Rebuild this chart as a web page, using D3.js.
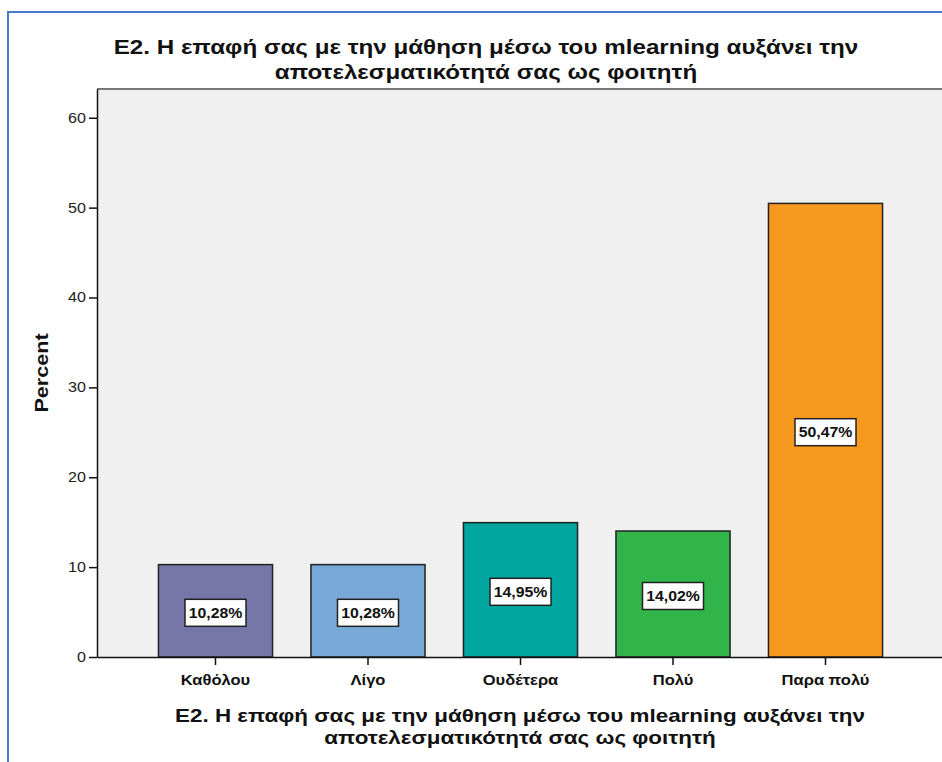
<!DOCTYPE html>
<html>
<head>
<meta charset="utf-8">
<script src="https://cdn.jsdelivr.net/npm/d3@7"></script>
<style>
  html, body { margin: 0; padding: 0; background: #ffffff; }
  svg { display: block; font-family: "Liberation Sans", Arial, sans-serif; }
</style>
</head>
<body>
<svg id="chart" width="942" height="762"></svg>
<script>
// Response categories and their percentages
const categories = ["Καθόλου", "Λίγο", "Ουδέτερα", "Πολύ", "Παρα πολύ"];
const percents = [10.28, 10.28, 14.95, 14.02, 50.47];
const barColors = ["#7676a9", "#78a9d7", "#00a59f", "#31b54a", "#f7981f"];
const yTicks = [0, 10, 20, 30, 40, 50, 60];
const titleLines = [
  "E2. Η επαφή σας με την μάθηση μέσω του mlearning αυξάνει την",
  "αποτελεσματικότητά σας ως φοιτητή"
];
const yTitle = "Percent";

const svg = d3.select("#chart");

// widen glyphs horizontally so text takes the wider set width of the original renderer
function widen(sel, factor) {
  sel.each(function () {
    const w = this.getComputedTextLength();
    d3.select(this)
      .attr("textLength", w * factor)
      .attr("lengthAdjust", "spacingAndGlyphs");
  });
}

// outer blue frame (top and left edges)
svg.append("path")
  .attr("d", "M8,763 L8,12 L943,12")
  .attr("fill", "none")
  .attr("stroke", "#4a78c8")
  .attr("stroke-width", 2);

const plot = { left: 97, top: 89, right: 944, bottom: 657 };

const x = d3.scaleBand()
  .domain(categories)
  .range([plot.left, plot.right])
  .paddingInner(0.252)
  .paddingOuter(0.403);

const y = d3.scaleLinear()
  .domain([0, 63.2])
  .range([plot.bottom, plot.top]);

// plot background
svg.append("rect")
  .attr("x", plot.left).attr("y", plot.top)
  .attr("width", plot.right - plot.left).attr("height", plot.bottom - plot.top)
  .attr("fill", "#f0f0f0");

// top frame of plot area
svg.append("line")
  .attr("x1", plot.left).attr("x2", plot.right)
  .attr("y1", plot.top).attr("y2", plot.top)
  .attr("stroke", "#777").attr("stroke-width", 2);

// bars
svg.append("g").selectAll("rect")
  .data(percents)
  .join("rect")
  .attr("x", (d, i) => x(categories[i]))
  .attr("y", d => y(d))
  .attr("width", x.bandwidth())
  .attr("height", d => y(0) - y(d))
  .attr("fill", (d, i) => barColors[i])
  .attr("stroke", "#222")
  .attr("stroke-width", 1.5);

// value labels inside bars
const lab = svg.append("g").selectAll("g")
  .data(percents)
  .join("g")
  .attr("transform", (d, i) => `translate(${x(categories[i]) + x.bandwidth() / 2},${(y(d) + y(0)) / 2 + 2})`);
lab.append("rect")
  .attr("x", -30.5).attr("y", -13.5)
  .attr("width", 61).attr("height", 27)
  .attr("fill", "#fff")
  .attr("stroke", "#222")
  .attr("stroke-width", 1.5);
const labText = lab.append("text")
  .attr("text-anchor", "middle")
  .attr("dy", "0.36em")
  .attr("font-size", 14)
  .attr("font-weight", "bold")
  .attr("fill", "#111")
  .text(d => d.toFixed(2).replace(".", ",") + "%");
widen(labText, 1.13);

// y axis
const yAxis = svg.append("g")
  .attr("transform", `translate(${plot.left},0)`)
  .call(d3.axisLeft(y).tickValues(yTicks).tickSize(8).tickPadding(3).tickSizeOuter(0));
yAxis.select(".domain").attr("stroke", "#111").attr("stroke-width", 1.5);
yAxis.selectAll(".tick line").attr("stroke", "#111").attr("stroke-width", 1.5);
yAxis.selectAll(".tick text")
  .attr("font-size", 14)
  .attr("font-family", "Liberation Sans, Arial, sans-serif")
  .attr("fill", "#222");
widen(yAxis.selectAll(".tick text"), 1.15);

// x axis
const xAxis = svg.append("g")
  .attr("transform", `translate(0,${plot.bottom})`)
  .call(d3.axisBottom(x).tickSize(8).tickPadding(10).tickSizeOuter(0));
xAxis.select(".domain").attr("stroke", "#111").attr("stroke-width", 1.5);
xAxis.selectAll(".tick line").attr("stroke", "#111").attr("stroke-width", 1.5);
xAxis.selectAll(".tick text")
  .attr("font-size", 14)
  .attr("font-weight", "bold")
  .attr("font-family", "Liberation Sans, Arial, sans-serif")
  .attr("fill", "#111");
widen(xAxis.selectAll(".tick text"), 1.18);

// chart title
const title = svg.append("text")
  .attr("text-anchor", "middle")
  .attr("font-size", 20)
  .attr("font-weight", "bold")
  .attr("fill", "#111");
titleLines.forEach((t, i) => {
  title.append("tspan").attr("x", 486).attr("y", 54 + i * 25).text(t);
});
widen(title.selectAll("tspan"), 1.21);

// x axis title
const xTitle = svg.append("text")
  .attr("text-anchor", "middle")
  .attr("font-size", 19)
  .attr("font-weight", "bold")
  .attr("fill", "#111");
titleLines.forEach((t, i) => {
  xTitle.append("tspan").attr("x", 520).attr("y", 722 + i * 22).text(t);
});
widen(xTitle.selectAll("tspan"), 1.18);

// y axis title
const yt = svg.append("text")
  .attr("transform", "translate(48,373) rotate(-90)")
  .attr("text-anchor", "middle")
  .attr("font-size", 18)
  .attr("font-weight", "bold")
  .attr("fill", "#111")
  .text(yTitle);
widen(yt, 1.2);
</script>
</body>
</html>
